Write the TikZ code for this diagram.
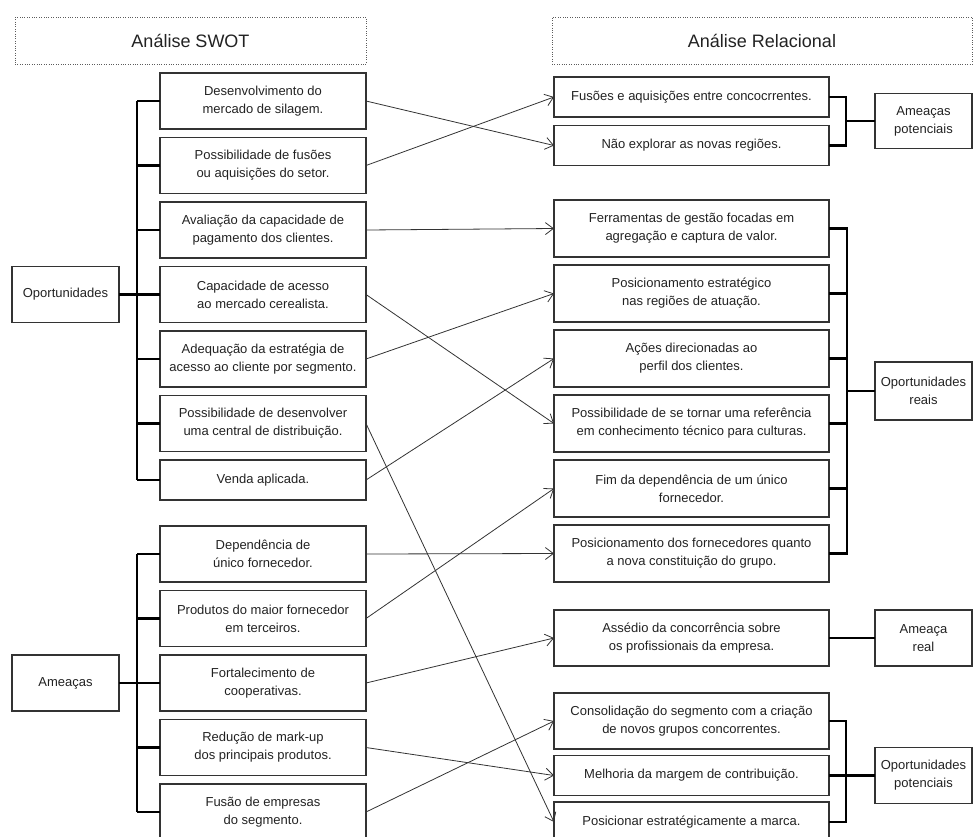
\documentclass[tikz,border=0pt]{standalone}
\usepackage{fontspec}
\setmainfont{Liberation Sans}
\usepackage{xcolor}
\usetikzlibrary{arrows.meta, positioning, calc}
\definecolor{boxline}{HTML}{333333}
\definecolor{txtgray}{HTML}{222222}
\tikzset{
  head/.style={rectangle, draw=boxline!80, dotted, thin, text=txtgray,
    minimum width=351pt, minimum height=47pt, font=\fontsize{18}{22}\selectfont},
  item/.style={rectangle, draw=boxline, line width=1.2pt, align=center, inner sep=2pt,
    outer sep=0pt, minimum height=56pt, text=txtgray, font=\fontsize{13}{18}\selectfont},
  swot/.style={item, minimum width=206pt},
  rel/.style={item, minimum width=275pt},
  grp/.style={item, minimum width=97pt},
  brk/.style={line width=2.4pt, black},
  ar/.style={-{Straight Barb[length=8pt,width=12pt]}, line width=0.8pt, boxline},
}
\begin{document}
\begin{tikzpicture}[x=1pt, y=-1pt]
  \useasboundingbox (0,0) rectangle (973,836);

  \node[head] (hswot) at (190.5,40.5) {Análise SWOT};
  \node[head, minimum width=420pt] (hrel) at (762,40.5) {Análise Relacional};

  \node[swot] (o1) at (263,101) {Desenvolvimento do\\mercado de silagem.};
  \node[swot, below=8.5pt of o1] (o2) {Possibilidade de fusões\\ou aquisições do setor.};
  \node[swot, below=8.5pt of o2] (o3) {Avaliação da capacidade de\\pagamento dos clientes.};
  \node[swot, below=8.5pt of o3] (o4) {Capacidade de acesso\\ao mercado cerealista.};
  \node[swot, below=8.5pt of o4] (o5) {Adequação da estratégia de\\acesso ao cliente por segmento.};
  \node[swot, below=8.5pt of o5] (o6) {Possibilidade de desenvolver\\uma central de distribuição.};
  \node[swot, minimum height=40pt, below=8.5pt of o6] (o7) {Venda aplicada.};

  \node[swot] (a1) at (263,554) {Dependência de\\único fornecedor.};
  \node[swot, below=8.5pt of a1] (a2) {Produtos do maior fornecedor\\em terceiros.};
  \node[swot, below=8.5pt of a2] (a3) {Fortalecimento de\\cooperativas.};
  \node[swot, below=8.5pt of a3] (a4) {Redução de mark-up\\dos principais produtos.};
  \node[swot, below=8.5pt of a4] (a5) {Fusão de empresas\\do segmento.};

  \node[grp, minimum width=107pt, left=41pt of o4] (oport) {Oportunidades};
  \node[grp, minimum width=107pt, left=41pt of a3] (ameac) {Ameaças};

  \node[rel, minimum height=40pt] (t1) at (691.5,97) {Fusões e aquisições entre concocrrentes.};
  \node[rel, minimum height=40pt, below=8.5pt of t1] (t2) {Não explorar as novas regiões.};

  \node[rel, minimum height=57pt] (p1) at (691.5,228.5) {Ferramentas de gestão focadas em\\agregação e captura de valor.};
  \node[rel, minimum height=57pt, below=8pt of p1] (p2) {Posicionamento estratégico\\nas regiões de atuação.};
  \node[rel, minimum height=57pt, below=8pt of p2] (p3) {Ações direcionadas ao\\perfil dos clientes.};
  \node[rel, minimum height=57pt, below=8pt of p3] (p4) {Possibilidade de se tornar uma referência\\em conhecimento técnico para culturas.};
  \node[rel, minimum height=57pt, below=8pt of p4] (p5) {Fim da dependência de um único\\fornecedor.};
  \node[rel, minimum height=57pt, below=8pt of p5] (p6) {Posicionamento dos fornecedores quanto\\a nova constituição do grupo.};

  \node[rel] (t3) at (691.5,638) {Assédio da concorrência sobre\\os profissionais da empresa.};

  \node[rel] (q1) at (691.5,721) {Consolidação do segmento com a criação\\de novos grupos concorrentes.};
  \node[rel, minimum height=40pt, below=6.5pt of q1] (q2) {Melhoria da margem de contribuição.};
  \node[rel, minimum height=40pt, below=6.5pt of q2] (q3) {Posicionar estratégicamente a marca.};

  \node[grp, minimum height=55pt] (amepot) at ($(t1.east)!0.5!(t2.east)+(94.5pt,0)$) {Ameaças\\potenciais};
  \node[grp, minimum height=58pt] (opreal) at ($(p1.east)!0.5!(p6.east)+(94.5pt,0)$) {Oportunidades\\reais};
  \node[grp, right=46pt of t3] (amereal) {Ameaça\\real};
  \node[grp, right=46pt of q2] (oppot) {Oportunidades\\potenciais};

  \coordinate (so) at ($(o4.west)+(-23pt,0)$);
  \coordinate (sa) at ($(a3.west)+(-23pt,0)$);
  \draw[brk] (o1.west -| so) -- (o7.west -| so);
  \draw[brk] (o1.west) -- (o1.west -| so);
  \draw[brk] (o2.west) -- (o2.west -| so);
  \draw[brk] (o3.west) -- (o3.west -| so);
  \draw[brk] (o4.west) -- (oport.east);
  \draw[brk] (o5.west) -- (o5.west -| so);
  \draw[brk] (o6.west) -- (o6.west -| so);
  \draw[brk] (o7.west) -- (o7.west -| so);
  \draw[brk] (a1.west -| sa) -- (a5.west -| sa);
  \draw[brk] (a1.west) -- (a1.west -| sa);
  \draw[brk] (a2.west) -- (a2.west -| sa);
  \draw[brk] (a3.west) -- (ameac.east);
  \draw[brk] (a4.west) -- (a4.west -| sa);
  \draw[brk] (a5.west) -- (a5.west -| sa);

  \coordinate (s1) at ($(t1.east)+(17pt,0)$);
  \coordinate (s2) at ($(p1.east)+(18pt,0)$);
  \coordinate (s3) at ($(q1.east)+(17pt,0)$);
  \draw[brk] (t1.east) -- (s1) |- (t2.east);
  \draw[brk] (amepot.west) -- (amepot.west -| s1);
  \draw[brk] (p1.east) -- (s2) |- (p6.east);
  \draw[brk] (p2.east) -- (p2.east -| s2);
  \draw[brk] (p3.east) -- (p3.east -| s2);
  \draw[brk] (p4.east) -- (p4.east -| s2);
  \draw[brk] (p5.east) -- (p5.east -| s2);
  \draw[brk] (opreal.west) -- (opreal.west -| s2);
  \draw[brk] (t3) -- (amereal);
  \draw[brk] (q1.east) -- (s3) |- (q3.east);
  \draw[brk] (q2.east) -- (oppot.west);

  \draw[ar] (o1.east) -- (t2.west);
  \draw[ar] (o2.east) -- (t1.west);
  \draw[ar] (o3.east) -- (p1.west);
  \draw[ar] (o4.east) -- (p4.west);
  \draw[ar] (o5.east) -- (p2.west);
  \draw[ar] (o6.east) -- (q3.west);
  \draw[ar] (o7.east) -- (p3.west);
  \draw[ar] (a1.east) -- (p6.west);
  \draw[ar] (a2.east) -- (p5.west);
  \draw[ar] (a3.east) -- (t3.west);
  \draw[ar] (a4.east) -- (q2.west);
  \draw[ar] (a5.east) -- (q1.west);
\end{tikzpicture}
\end{document}
